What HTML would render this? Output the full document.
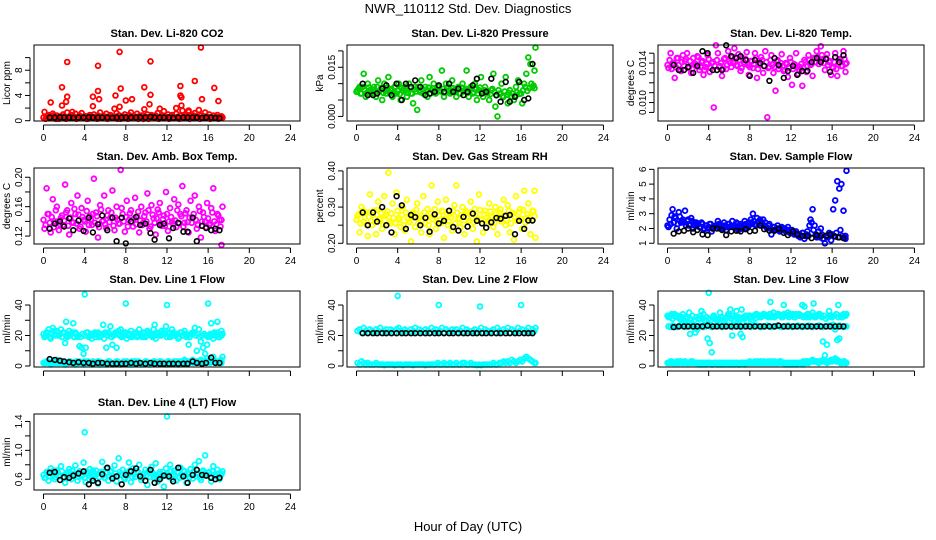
<!DOCTYPE html>
<html><head><meta charset="utf-8">
<style>
html,body{margin:0;padding:0;background:#fff;}
svg{display:block;font-family:"Liberation Sans",sans-serif;}
</style></head>
<body>
<svg id="chart" width="936" height="540" viewBox="0 0 936 540">
<text x="468" y="13" text-anchor="middle" font-size="13">NWR_110112  Std. Dev. Diagnostics</text>
<text x="468" y="531" text-anchor="middle" font-size="13">Hour of Day (UTC)</text>
</svg>
<script>
const hours = [0.1,0.3,0.5,0.7,0.9,1.1,1.3,1.5,1.7,1.9,2.1,2.3,2.5,2.7,2.9,3.1,3.3,3.5,3.7,3.9,4.1,4.3,4.5,4.7,4.9,5.1,5.3,5.5,5.7,5.9,6.1,6.3,6.5,6.7,6.9,7.1,7.3,7.5,7.7,7.9,8.1,8.3,8.5,8.7,8.9,9.1,9.3,9.5,9.7,9.9,10.1,10.3,10.5,10.7,10.9,11.1,11.3,11.5,11.7,11.9,12.1,12.3,12.5,12.7,12.9,13.1,13.3,13.5,13.7,13.9,14.1,14.3,14.5,14.7,14.9,15.1,15.3,15.5,15.7,15.9,16.1,16.3,16.5,16.7,16.9,17.1,17.3,17.4];
const hoursB = [0.0,0.2,0.4,0.6,0.8,1.0,1.2,1.4,1.6,1.8,2.0,2.2,2.4,2.6,2.8,3.0,3.2,3.4,3.6,3.8,4.0,4.2,4.4,4.6,4.8,5.0,5.2,5.4,5.6,5.8,6.0,6.2,6.4,6.6,6.8,7.0,7.2,7.4,7.6,7.8,8.0,8.2,8.4,8.6,8.8,9.0,9.2,9.4,9.6,9.8,10.0,10.2,10.4,10.6,10.8,11.0,11.2,11.4,11.6,11.8,12.0,12.2,12.4,12.6,12.8,13.0,13.2,13.4,13.6,13.8,14.0,14.2,14.4,14.6,14.8,15.0,15.2,15.4,15.6,15.8,16.0,16.2,16.4,16.6,16.8,17.0,17.2,17.3];
const blackHours = [0.6,1.1,1.6,2.0,2.5,2.9,3.4,3.9,4.4,4.8,5.3,5.7,6.2,6.7,7.1,7.6,8.0,8.5,9.0,9.4,9.9,10.4,10.8,11.3,11.7,12.2,12.6,13.1,13.6,14.0,14.5,14.9,15.4,15.8,16.3,16.7,17.1];
const xTicks = [0,4,8,12,16,20,24];

const co2 = [1.4,0.6,0.9,0.4,1.1,0.5,0.8,0.3, 0.7,1.0,0.4,1.3,0.6,0.9,0.5,1.1, 0.4,0.8,1.2,0.5,0.7,0.3,0.9,0.6, 1.0,0.5,0.8,1.3,0.4,0.7,1.1,0.5, 0.9,0.4,0.6,1.2,0.8,0.3,0.7,1.0, 0.5,0.9,1.3,0.6,0.4,1.1,0.7,0.8, 0.3,0.6,1.0,0.5,0.9,0.4,0.8,1.2, 1.9,0.7,1.5,0.4,1.0,0.6,0.9,0.5, 1.1,0.4,0.8,1.6,0.5,0.9,1.4,0.6, 0.7,1.2,0.5,1.7,0.8,0.4,1.3,0.6, 1.0,0.5,0.8,0.4,0.9,0.6,0.7,0.5];
const co2B = [0.5,0.3,0.7,0.4,0.6,0.8,0.3,0.5, 0.6,0.4,0.7,0.3,0.5,0.8,0.4,0.6, 0.3,0.5,0.7,0.4,0.6,0.3,0.5,0.8, 0.4,0.6,0.3,0.7,0.5,0.4,0.6,0.3, 0.7,0.5,0.4,0.6,0.3,0.8,0.5,0.4, 0.6,0.3,0.5,0.7,0.4,0.6,0.3,0.5, 0.8,0.4,0.6,0.3,0.5,0.7,0.4,0.6, 0.3,0.5,0.8,0.4,0.6,0.3,0.7,0.5, 0.4,0.6,0.3,0.5,0.7,0.4,0.6,0.3, 0.5,0.8,0.4,0.6,0.3,0.5,0.7,0.4, 0.6,0.3,0.5,0.4,0.6,0.3,0.5,0.4];
const co2SpikeHours = [0.7,1.8,1.8,2.3,2.3,2.2,4.8,4.8,5.3,5.3,5.4,7.0,7.4,7.5,7.4,8.0,8.6,9.8,9.8,10.4,10.4,10.3,13.3,13.3,13.4,13.4,14.7,15.3,15.4,16.6,17.0,12.9,2.8,6.9,14.1];
const co2SpikeVals = [2.9,5.3,2.4,9.3,3.8,3.0,3.8,2.3,8.7,4.7,3.4,4.0,10.9,5.1,2.2,3.2,3.4,5.3,1.8,9.4,4.1,2.6,5.5,4.0,3.7,2.4,6.3,11.6,3.4,5.2,3.1,2.0,1.4,1.9,1.6];
const co2Black = [0.5,0.5,0.55,0.5,0.5,0.45,0.5,0.5,0.55,0.5,0.5,0.5,0.5,0.45,0.5,0.5,0.5,0.5,0.5,0.55,0.5,0.6,0.5,0.5,0.5,0.5,0.45,0.5,0.5,0.5,0.5,0.5,0.45,0.5,0.5,0.45,0.4];

const pressure = [0.008,0.009,0.007,0.013,0.006,0.010,0.008,0.007, 0.009,0.006,0.011,0.008,0.005,0.010,0.007,0.012, 0.008,0.006,0.009,0.007,0.010,0.005,0.008,0.009, 0.006,0.010,0.007,0.004,0.009,0.002,0.008,0.011, 0.007,0.009,0.006,0.012,0.008,0.010,0.007,0.009, 0.008,0.014,0.006,0.010,0.009,0.007,0.011,0.008, 0.006,0.009,0.007,0.010,0.008,0.014,0.006,0.009, 0.007,0.010,0.005,0.008,0.012,0.006,0.009,0.007, 0.005,0.008,0.013,0.003,0.000,0.007,0.010,0.006, 0.012,0.004,0.008,0.006,0.005,0.009,0.011,0.007, 0.004,0.010,0.013,0.018,0.016,0.009,0.014,0.021];
const pressureB = [0.0075,0.0085,0.0070,0.0090,0.0080,0.0072,0.0088,0.0078, 0.0082,0.0070,0.0090,0.0076,0.0086,0.0072,0.0080,0.0088, 0.0074,0.0084,0.0070,0.0090,0.0078,0.0068,0.0086,0.0076, 0.0080,0.0072,0.0088,0.0070,0.0082,0.0076,0.0090,0.0074, 0.0084,0.0072,0.0080,0.0088,0.0070,0.0086,0.0078,0.0082, 0.0090,0.0076,0.0084,0.0072,0.0088,0.0080,0.0074,0.0086, 0.0078,0.0082,0.0070,0.0088,0.0076,0.0084,0.0072,0.0080, 0.0086,0.0074,0.0082,0.0070,0.0088,0.0076,0.0080,0.0072, 0.0078,0.0068,0.0084,0.0074,0.0064,0.0080,0.0070,0.0062, 0.0076,0.0066,0.0072,0.0060,0.0070,0.0064,0.0074,0.0068, 0.0070,0.0080,0.0090,0.0078,0.0086,0.0100,0.0094,0.0086];
const pressureBlack = [0.010,0.0065,0.0065,0.007,0.0085,0.0095,0.0065,0.010,0.005,0.010,0.009,0.011,0.009,0.0065,0.007,0.0075,0.0095,0.0075,0.010,0.0075,0.0085,0.0065,0.0075,0.0095,0.0115,0.007,0.0075,0.0115,0.0065,0.0045,0.0105,0.0045,0.006,0.0105,0.005,0.0055,0.016];

const licorTemp = [0.0135,0.0150,0.0140,0.0125,0.0145,0.0138,0.0132,0.0148, 0.0142,0.0150,0.0136,0.0130,0.0145,0.0139,0.0147,0.0133, 0.0141,0.0128,0.0136,0.0148,0.0131,0.0140,0.0095,0.0158, 0.0150,0.0137,0.0127,0.0144,0.0134,0.0152,0.0140,0.0146, 0.0155,0.0138,0.0149,0.0132,0.0145,0.0139,0.0151,0.0128, 0.0142,0.0135,0.0150,0.0125,0.0138,0.0146,0.0130,0.0152, 0.0085,0.0136,0.0148,0.0130,0.0112,0.0143,0.0137,0.0149, 0.0132,0.0140,0.0126,0.0145,0.0118,0.0139,0.0150,0.0129, 0.0136,0.0117,0.0143,0.0131,0.0148,0.0138,0.0127,0.0145, 0.0152,0.0139,0.0157,0.0144,0.0133,0.0149,0.0141,0.0128, 0.0135,0.0150,0.0127,0.0144,0.0137,0.0152,0.0131,0.0140];
const licorTempB = [0.0138,0.0143,0.0134,0.0140,0.0136,0.0145,0.0133,0.0141, 0.0137,0.0144,0.0135,0.0142,0.0134,0.0140,0.0138,0.0146, 0.0136,0.0142,0.0133,0.0139,0.0144,0.0135,0.0141,0.0137, 0.0143,0.0136,0.0140,0.0134,0.0145,0.0138,0.0142,0.0136, 0.0140,0.0146,0.0137,0.0143,0.0135,0.0141,0.0144,0.0138, 0.0136,0.0142,0.0139,0.0145,0.0134,0.0140,0.0143,0.0137, 0.0141,0.0135,0.0143,0.0138,0.0136,0.0142,0.0134,0.0140, 0.0137,0.0133,0.0139,0.0135,0.0141,0.0134,0.0138,0.0136, 0.0133,0.0139,0.0135,0.0141,0.0137,0.0143,0.0139,0.0145, 0.0141,0.0146,0.0143,0.0148,0.0140,0.0145,0.0138,0.0142, 0.0136,0.0141,0.0134,0.0139,0.0143,0.0137,0.0144,0.0139];
const licorTempBlack = [0.0138,0.0133,0.0133,0.0136,0.0130,0.0137,0.0152,0.0150,0.0133,0.0133,0.0133,0.0158,0.0147,0.0145,0.0147,0.0143,0.0127,0.0143,0.0140,0.0137,0.0122,0.0145,0.0138,0.0125,0.0132,0.0137,0.0128,0.0132,0.0132,0.0141,0.0145,0.0141,0.0144,0.0131,0.0146,0.0141,0.0148];

const ambTemp = [0.130,0.185,0.150,0.125,0.170,0.140,0.160,0.128, 0.145,0.135,0.190,0.155,0.122,0.165,0.138,0.150, 0.175,0.130,0.158,0.142,0.126,0.168,0.147,0.135, 0.198,0.152,0.118,0.162,0.140,0.175,0.131,0.155, 0.145,0.182,0.128,0.160,0.137,0.210,0.150,0.126, 0.168,0.142,0.155,0.133,0.172,0.146,0.125,0.160, 0.138,0.152,0.178,0.130,0.162,0.144,0.122,0.156, 0.165,0.134,0.148,0.180,0.127,0.158,0.140,0.170, 0.132,0.163,0.150,0.188,0.138,0.155,0.125,0.168, 0.145,0.175,0.130,0.160,0.118,0.152,0.140,0.165, 0.135,0.158,0.185,0.127,0.150,0.142,0.108,0.160];
const ambTempB = [0.142,0.135,0.150,0.138,0.146,0.132,0.155,0.140, 0.136,0.148,0.141,0.152,0.134,0.145,0.139,0.157, 0.137,0.149,0.133,0.146,0.140,0.154,0.135,0.143, 0.150,0.138,0.147,0.132,0.156,0.141,0.136,0.148, 0.139,0.152,0.134,0.145,0.142,0.137,0.158,0.140, 0.146,0.133,0.151,0.139,0.144,0.136,0.153,0.141, 0.135,0.147,0.140,0.155,0.133,0.149,0.138,0.144, 0.152,0.137,0.143,0.134,0.150,0.140,0.146,0.136, 0.141,0.155,0.137,0.147,0.133,0.151,0.139,0.145, 0.138,0.150,0.142,0.135,0.154,0.140,0.146,0.132, 0.144,0.137,0.152,0.140,0.136,0.148,0.133,0.142];
const ambTempBlack = [0.130,0.137,0.140,0.133,0.144,0.128,0.141,0.127,0.145,0.125,0.136,0.148,0.128,0.145,0.113,0.145,0.110,0.140,0.146,0.135,0.137,0.124,0.115,0.135,0.137,0.117,0.131,0.138,0.126,0.126,0.145,0.113,0.134,0.131,0.128,0.130,0.128];

const rh = [0.275,0.230,0.300,0.260,0.285,0.220,0.335,0.250, 0.290,0.225,0.315,0.265,0.240,0.330,0.280,0.395, 0.255,0.310,0.225,0.340,0.270,0.245,0.300,0.235, 0.320,0.260,0.205,0.285,0.245,0.310,0.270,0.230, 0.330,0.255,0.295,0.225,0.360,0.275,0.240,0.315, 0.265,0.290,0.215,0.320,0.250,0.280,0.235,0.305, 0.360,0.270,0.245,0.300,0.225,0.285,0.260,0.315, 0.240,0.295,0.205,0.335,0.265,0.230,0.290,0.255, 0.310,0.275,0.245,0.300,0.225,0.285,0.260,0.320, 0.250,0.305,0.230,0.280,0.210,0.330,0.265,0.295, 0.240,0.345,0.270,0.310,0.225,0.290,0.345,0.215];
const rhB = [0.265,0.280,0.255,0.290,0.270,0.250,0.285,0.262, 0.278,0.258,0.292,0.268,0.283,0.252,0.275,0.288, 0.260,0.282,0.270,0.255,0.290,0.265,0.278,0.250, 0.285,0.268,0.258,0.280,0.272,0.292,0.255,0.276, 0.262,0.286,0.270,0.250,0.282,0.266,0.294,0.258, 0.276,0.255,0.288,0.268,0.280,0.260,0.272,0.290, 0.255,0.284,0.266,0.278,0.252,0.290,0.270,0.262, 0.286,0.258,0.275,0.268,0.292,0.255,0.280,0.270, 0.262,0.288,0.272,0.256,0.282,0.268,0.294,0.260, 0.278,0.266,0.290,0.255,0.284,0.270,0.262,0.286, 0.268,0.292,0.258,0.280,0.272,0.264,0.288,0.275];
const rhBlack = [0.285,0.250,0.285,0.260,0.300,0.250,0.230,0.330,0.305,0.240,0.278,0.272,0.250,0.270,0.232,0.280,0.255,0.262,0.290,0.245,0.235,0.273,0.246,0.282,0.262,0.255,0.243,0.258,0.270,0.268,0.276,0.278,0.225,0.262,0.240,0.263,0.263];

const sampleFlow = [2.1,2.3,3.3,2.8,2.0,3.1,2.4,2.6, 3.2,2.5,2.2,2.7,2.0,2.4,2.3,2.1, 2.4,1.9,2.2,2.0,2.3,1.8,2.1,2.2, 2.5,2.0,2.2,2.4,1.9,2.3,2.1,2.5, 2.2,2.4,1.9,2.3,2.1,2.5,2.0,2.2, 2.6,3.0,2.3,2.7,2.5,2.2,2.6,2.4, 2.0,2.3,1.6,2.1,1.9,2.2,1.8,2.1, 2.0,1.8,2.1,1.7,1.9,1.6,1.8,1.5, 1.4,1.7,1.3,1.6,1.5,2.6,3.3,2.2, 1.4,1.8,2.0,1.3,1.0,1.5,1.7,1.2, 3.3,3.9,5.2,4.7,5.0,3.2,1.3,5.9];
const sampleFlowB = [2.2,2.6,2.9,2.4,2.7,2.3,2.8,2.5, 2.4,2.2,2.6,2.3,2.5,2.2,2.4,2.3, 2.1,2.3,2.0,2.2,2.1,2.3,2.0,2.1, 2.2,2.3,2.1,2.0,2.2,2.1,2.3,2.2, 2.1,2.0,2.3,2.2,2.0,2.2,2.3,2.1, 2.4,2.3,2.5,2.2,2.4,2.6,2.3,2.2, 2.1,2.2,2.0,1.9,2.1,2.0,1.9,2.0, 1.9,2.0,1.8,1.9,1.7,1.8,1.7,1.6, 1.6,1.5,1.7,1.5,1.8,2.2,2.4,1.9, 1.6,1.5,1.4,1.6,1.3,1.5,1.4,1.6, 1.6,1.5,1.7,1.4,1.9,1.5,1.4,1.5];
const sampleFlowBlack = [1.65,1.8,1.85,2.0,1.75,1.9,1.6,1.55,2.0,2.0,1.9,1.55,1.8,1.85,1.8,1.95,1.8,1.85,2.2,1.95,1.85,1.85,2.0,1.7,1.55,1.8,1.6,1.5,1.5,1.35,1.55,1.5,1.5,1.6,1.45,1.4,1.35];

const line1High = [19,22,24,18,25,21,23,20, 24,22,15,19,23,21,28,22, 19,13,12,8,12,22,20,18, 21,19,22,20,21,18,12,22, 26,14,21,12,23,24,20,22, 18,21,23,20,22,19,24,20, 22,19,23,21,20,24,18,21, 20,23,21,26,22,19,24,20, 21,18,22,20,23,19,14,21, 22,25,10,24,16,12,8,14, 20,28,18,21,22,19,23,21];
const line1HighB = [21,20,22,19,21,23,20,22, 21,19,22,20,21,20,22,19, 21,20,19,21,20,22,19,21, 20,22,21,19,20,21,22,20, 21,19,20,22,21,20,19,21, 22,20,21,19,21,22,20,21, 19,21,20,22,21,19,20,22, 21,20,22,21,19,21,20,22, 20,21,19,22,20,21,20,19, 21,22,20,21,19,20,21,20, 19,21,20,22,20,19,21,20];
const line1Low = [2,3,2,1,3,2,4,2, 3,2,1,2,3,2,2,1, 2,3,2,1,2,3,2,1, 2,2,3,1,2,2,1,3, 2,1,2,3,2,1,2,2, 3,2,1,2,3,2,2,1, 2,3,2,1,2,3,2,2, 3,2,2,1,3,2,2,3, 2,1,3,2,4,3,2,3, 4,3,2,3,4,2,3,5, 4,3,6,2,3,2,4,6];
const line1LowB = [2,2,3,2,2,3,2,2, 2,3,2,2,2,3,2,2, 3,2,2,2,3,2,2,2, 3,2,2,3,2,2,2,2, 3,2,2,2,3,2,2,3, 2,2,2,3,2,2,3,2, 2,2,3,2,2,2,3,2, 2,3,2,2,2,3,2,2, 2,3,2,2,3,2,3,2, 3,2,3,3,2,3,2,3, 3,2,3,3,2,3,3,2];
const line1OutHours = [4.0,8.0,12.0,16.0,2.2,5.8,10.8,16.9];
const line1OutVals = [47,41,40,41,29,27,27,29];
const line1Black = [4.5,4,3.5,3,2.5,2,2.5,2,2,1.5,2,2,1.5,1.5,1.5,1.5,1.5,2,1.5,2,1.5,2,1.5,1.5,1.5,1.5,1.5,1.5,1.5,1.5,3,2,1.5,2,5.5,2,2];

const line2High = [23,24,22,25,23,22,24,23, 22,24,23,25,22,23,24,22, 24,23,22,24,25,23,22,24, 23,22,24,23,25,22,24,23, 22,24,23,22,25,23,24,22, 23,25,22,24,23,22,24,23, 24,22,23,25,22,24,23,22, 23,24,22,23,25,22,24,23, 22,23,24,22,25,23,22,24, 23,25,22,24,23,22,25,23, 24,22,23,25,22,24,23,25];
const line2Low = [2,1,3,2,1,2,1,1, 1,2,1,1,1,0.5,1,1, 1,1,0.5,1,1,1,0.5,1, 1,1,1,0.5,1,1,1,1, 1,0.5,1,1,1,1,1,2, 1,1,2,1,1,2,1,1, 2,1,1,2,2,1,1,2, 1,1,0.5,1,0.5,1,1,1, 1,1,2,1,1,2,2,3, 2,3,2,4,3,2,3,4, 3,5,6,5,4,3,2,2];
const line2OutHours = [4.0,8.0,12.0,16.0];
const line2OutVals = [46,40,39,40];
const line2Black = [21.5,21.5,21.5,21.5,21.5,21.5,21.5,21.5,21.5,21.5,21.5,21.5,21.5,21.5,21.5,21.5,21.5,21.5,21.5,21.5,21.5,21.5,21.5,21.5,21.5,21.5,21.5,21.5,21.5,21.5,21.5,21.5,21.5,21.5,21.5,21.5,21.5];

const line3Upper = [32,33,31,34,33,32,30,34, 28,31,35,30,26,22,24,31, 36,34,30,18,15,9,33,31, 30,35,32,29,31,34,37,33, 30,36,32,21,19,31,29,33, 32,30,31,34,33,32,34,33, 33,34,32,35,33,34,33,32, 34,33,35,34,33,32,34,33, 33,40,39,32,34,33,35,32, 33,34,33,16,7,14,36,33, 27,24,17,18,32,34,33,34];
const line3UpperB = [33,32,34,33,32,33,31,32, 30,32,29,31,33,30,32,31, 33,31,30,32,31,30,32,31, 30,31,32,30,31,32,33,31, 30,32,31,30,31,32,33,32, 33,32,33,34,33,32,33,34, 33,32,34,33,32,33,34,33, 32,34,33,32,33,34,32,33, 34,33,32,33,34,32,33,33, 32,33,34,32,33,31,32,33, 32,33,34,32,33,32,34,33];
const line3Mid = [26,25.5,26.5,26,25.5,26,26.5,26, 25.5,26,26.5,26,25.5,26,26,26.5, 26,25.5,26,26.5,26,25.5,26,26, 26.5,26,25.5,26,26,26.5,26,25.5, 26,26,26.5,25.5,26,26,26.5,26, 25.5,26,26,26.5,26,25.5,26,26, 26.5,26,25.5,26,26,26.5,26,25.5, 26,26,26.5,26,25.5,26,26,26.5, 26,25.5,26,26,26.5,26,25.5,26, 26,26.5,26,25.5,26,26,26.5,26, 25.5,26,26,26.5,26,25.5,26,26];
const line3Low = [2,3,2,2,3,2,3,2, 3,2,2,3,2,2,2,1, 2,2,1,2,2,1,2,2, 1,2,2,1,2,1,2,2, 1,2,1,2,2,1,2,2, 2,2,3,2,2,3,2,2, 2,2,3,2,2,2,3,2, 2,1,2,2,1,2,1,2, 2,1,2,3,2,3,4,3, 3,2,3,4,3,2,3,4, 4,5,4,3,2,3,2,2];
const line3LowB = [2,2,3,2,2,2,3,2, 2,2,2,2,3,2,2,2, 2,1,2,2,2,2,1,2, 2,2,1,2,2,2,2,1, 2,2,2,1,2,2,2,2, 3,2,2,2,3,2,2,3, 2,3,2,2,3,2,2,3, 2,2,2,1,2,2,2,2, 2,2,3,2,3,3,3,3, 3,3,3,3,3,3,3,3, 3,4,3,3,2,2,3,2];
const line3OutHours = [4.0,7.2,10.0,14.2,2.2,6.3,11.3,16.6];
const line3OutVals = [48,37,42,41,21,20,40,40];
const line3Black = [25.5,26,26,26,26,26,26,26.5,26,26,26,26,26,26,26,26,26,26,26,26,26,26,26.5,26,26,26,26,26,26,26,26,26,26,26,26,26,26];

const line4 = [0.62,0.70,0.58,0.75,0.66,0.60,0.72,0.64, 0.78,0.63,0.55,0.69,0.74,0.60,0.67,0.79, 0.58,0.71,0.64,0.83,0.56,0.68,0.74,0.61, 0.66,0.72,0.54,0.69,0.84,0.62,0.75,0.58, 0.70,0.64,0.79,0.57,0.89,0.67,0.73,0.60, 0.68,0.83,0.56,0.75,0.63,0.71,0.80,0.59, 0.66,0.73,0.52,0.69,0.77,0.62,0.82,0.57, 0.70,0.64,0.50,0.75,0.67,0.80,0.60,0.72, 0.58,0.69,0.76,0.63,0.71,0.55,0.67,0.74, 0.61,0.80,0.68,0.85,0.59,0.72,0.93,0.66, 0.70,0.57,0.78,0.64,0.73,0.60,0.68,0.71];
const line4B = [0.66,0.62,0.70,0.64,0.68,0.72,0.63,0.69, 0.65,0.71,0.62,0.67,0.70,0.64,0.72,0.66, 0.68,0.63,0.70,0.66,0.62,0.71,0.65,0.69, 0.72,0.64,0.67,0.63,0.70,0.66,0.62,0.69, 0.65,0.71,0.63,0.68,0.64,0.70,0.66,0.62, 0.69,0.65,0.72,0.63,0.67,0.64,0.70,0.66, 0.62,0.68,0.65,0.71,0.63,0.69,0.66,0.64, 0.67,0.62,0.70,0.65,0.68,0.63,0.71,0.66, 0.64,0.70,0.62,0.67,0.72,0.65,0.69,0.63, 0.66,0.71,0.64,0.68,0.62,0.70,0.67,0.65, 0.69,0.63,0.71,0.66,0.64,0.68,0.65,0.67];
const line4OutHours = [4.0,12.0];
const line4OutVals = [1.25,1.47];
const line4Black = [0.69,0.70,0.59,0.63,0.62,0.65,0.68,0.71,0.53,0.58,0.55,0.67,0.76,0.61,0.64,0.53,0.66,0.71,0.75,0.64,0.58,0.73,0.55,0.60,0.65,0.64,0.57,0.76,0.64,0.55,0.66,0.73,0.66,0.65,0.62,0.60,0.62];

const NS = 'http://www.w3.org/2000/svg';
const svg = document.getElementById('chart');
const colLeft = [34, 347, 658];
const rowTop = [45, 168, 291, 414];
const boxW = 266, boxH = 76;

const panels = [
 {name:'co2', title:'Stan. Dev. Li-820 CO2', ylab:'Licor ppm', c:0, r:0, lo:-0.05, hi:12.0, ticks:[0,2,4,6,8,10], labels:[[0,'0'],[4,'4'],[8,'8']], xl:true,
  series:[[hoursB,co2B,'#ff0000'],[hours,co2,'#ff0000'],[co2SpikeHours,co2SpikeVals,'#ff0000'],[blackHours,co2Black,'#000']]},
 {name:'pressure', title:'Stan. Dev. Li-820 Pressure', ylab:'kPa', c:1, r:0, lo:-0.0014, hi:0.0218, ticks:[0,0.005,0.010,0.015,0.020], labels:[[0,'0.000'],[0.015,'0.015']], xl:true,
  series:[[hoursB,pressureB,'#00cc00'],[hours,pressure,'#00cc00'],[blackHours,pressureBlack,'#000']]},
 {name:'licor-temp', title:'Stan. Dev. Li-820 Temp.', ylab:'degrees C', c:2, r:0, lo:0.00813, hi:0.01583, ticks:[0.009,0.010,0.011,0.012,0.013,0.014,0.015], labels:[[0.010,'0.010'],[0.014,'0.014']], xl:true,
  series:[[hoursB,licorTempB,'#ff00ff'],[hours,licorTemp,'#ff00ff'],[blackHours,licorTempBlack,'#000']]},
 {name:'amb-box-temp', title:'Stan. Dev. Amb. Box Temp.', ylab:'degrees C', c:0, r:1, lo:0.1092, hi:0.2126, ticks:[0.12,0.14,0.16,0.18,0.20], labels:[[0.12,'0.12'],[0.16,'0.16'],[0.20,'0.20']], xl:true,
  series:[[hoursB,ambTempB,'#ff00ff'],[hours,ambTemp,'#ff00ff'],[blackHours,ambTempBlack,'#000']]},
 {name:'gas-stream-rh', title:'Stan. Dev. Gas Stream RH', ylab:'percent', c:1, r:1, lo:0.198, hi:0.408, ticks:[0.20,0.25,0.30,0.35,0.40], labels:[[0.20,'0.20'],[0.30,'0.30'],[0.40,'0.40']], xl:true,
  series:[[hoursB,rhB,'#ffff00'],[hours,rh,'#ffff00'],[blackHours,rhBlack,'#000']]},
 {name:'sample-flow', title:'Stan. Dev. Sample Flow', ylab:'ml/min', c:2, r:1, lo:0.95, hi:6.09, ticks:[1,2,3,4,5,6], labels:[[1,'1'],[2,'2'],[3,'3'],[4,'4'],[5,'5'],[6,'6']], xl:true,
  series:[[hoursB,sampleFlowB,'#0000ff'],[hours,sampleFlow,'#0000ff'],[blackHours,sampleFlowBlack,'#000']]},
 {name:'line1-flow', title:'Stan. Dev. Line 1 Flow', ylab:'ml/min', c:0, r:2, lo:-0.66, hi:49.2, ticks:[0,10,20,30,40], labels:[[0,'0'],[20,'20'],[40,'40']], xl:false,
  series:[[hoursB,line1HighB,'#00ffff'],[hours,line1High,'#00ffff'],[hoursB,line1LowB,'#00ffff'],[hours,line1Low,'#00ffff'],[line1OutHours,line1OutVals,'#00ffff'],[blackHours,line1Black,'#000']]},
 {name:'line2-flow', title:'Stan. Dev. Line 2 Flow', ylab:'ml/min', c:1, r:2, lo:-0.66, hi:49.2, ticks:[0,10,20,30,40], labels:[[0,'0'],[20,'20'],[40,'40']], xl:false,
  series:[[hours,line2High,'#00ffff'],[hours,line2Low,'#00ffff'],[line2OutHours,line2OutVals,'#00ffff'],[blackHours,line2Black,'#000']]},
 {name:'line3-flow', title:'Stan. Dev. Line 3 Flow', ylab:'ml/min', c:2, r:2, lo:-0.66, hi:49.2, ticks:[0,10,20,30,40], labels:[[0,'0'],[20,'20'],[40,'40']], xl:false,
  series:[[hoursB,line3UpperB,'#00ffff'],[hours,line3Upper,'#00ffff'],[hours,line3Mid,'#00ffff'],[hoursB,line3LowB,'#00ffff'],[hours,line3Low,'#00ffff'],[line3OutHours,line3OutVals,'#00ffff'],[blackHours,line3Black,'#000']]},
 {name:'line4-flow', title:'Stan. Dev. Line 4 (LT) Flow', ylab:'ml/min', c:0, r:3, lo:0.451, hi:1.503, ticks:[0.6,0.8,1.0,1.2,1.4], labels:[[0.6,'0.6'],[1.0,'1.0'],[1.4,'1.4']], xl:true,
  series:[[hoursB,line4B,'#00ffff'],[hours,line4,'#00ffff'],[line4OutHours,line4OutVals,'#00ffff'],[blackHours,line4Black,'#000']]}
];

function mk(tag, attrs, parent){
  const e = document.createElementNS(NS, tag);
  for (const k in attrs) e.setAttribute(k, attrs[k]);
  parent.appendChild(e);
  return e;
}

panels.forEach(p => {
  const L = colLeft[p.c], T = rowTop[p.r], B = T + boxH, R = L + boxW;
  const xS = h => L + 9.5 + h * 10.29;
  const yS = v => B - (v - p.lo) / (p.hi - p.lo) * boxH;
  const g = mk('g', {}, svg);
  
  

  const t = mk('text', {x:(L+R)/2, y:T-8, 'text-anchor':'middle', 'font-size':'11', 'font-weight':'bold'}, g);
  t.textContent = p.title;
  
  

  const yl = mk('text', {x:0, y:0, 'text-anchor':'middle', 'font-size':'10', transform:`translate(${L-24},${(T+B)/2}) rotate(-90)`}, g);
  yl.textContent = p.ylab;
  
  

  const pts = mk('g', {fill:'none'}, g);
  
  
  p.series.forEach(s => {
    const hs = s[0], vs = s[1], col = s[2];
    for (let i = 0; i < vs.length && i < hs.length; i++) {
      const c = mk('circle', {cx:xS(hs[i]).toFixed(1), cy:yS(vs[i]).toFixed(1), r:'2.4', stroke:col, 'stroke-width': col === '#000' ? '1.6' : '1.8'}, pts);
      
      
    }
  });

  const box = mk('rect', {x:L, y:T, width:boxW, height:boxH, fill:'none', stroke:'#000', 'stroke-width':'1'}, g);
  
  

  const ya = mk('g', {stroke:'#000', 'stroke-width':'1'}, g);
  
  
  mk('line', {x1:L-4, x2:L-4, y1:yS(p.ticks[0]), y2:yS(p.ticks[p.ticks.length-1])}, ya);
  p.ticks.forEach(v => mk('line', {x1:L-9, x2:L-4, y1:yS(v), y2:yS(v)}, ya));
  p.labels.forEach(lb => {
    const tt = mk('text', {x:0, y:0, 'text-anchor':'middle', 'font-size':'10', stroke:'none', fill:'#000', transform:`translate(${L-12},${yS(lb[0])}) rotate(-90)`}, ya);
    tt.textContent = lb[1];
    
    
  });

  const xa = mk('g', {stroke:'#000', 'stroke-width':'1'}, g);
  
  
  mk('line', {x1:xS(xTicks[0]), x2:xS(xTicks[xTicks.length-1]), y1:B+4, y2:B+4}, xa);
  xTicks.forEach(h => {
    mk('line', {x1:xS(h), x2:xS(h), y1:B+4, y2:B+9}, xa);
    if (p.xl) {
      const tt = mk('text', {x:xS(h), y:B+20, 'text-anchor':'middle', 'font-size':'10', stroke:'none', fill:'#000'}, xa);
      tt.textContent = String(h);
      
      
    }
  });
});
</script>
</body></html>
